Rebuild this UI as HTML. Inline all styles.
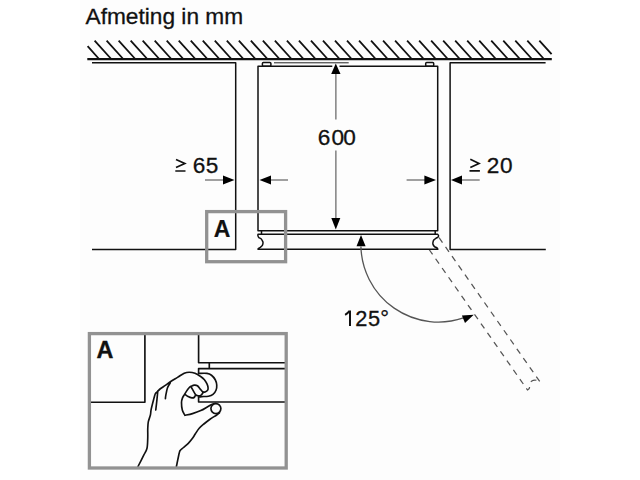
<!DOCTYPE html>
<html><head><meta charset="utf-8"><style>
html,body{margin:0;padding:0;background:#fff;width:640px;height:480px;overflow:hidden}
svg{display:block}
text{font-family:"Liberation Sans",sans-serif;fill:#111}
</style></head><body>
<svg width="640" height="480" viewBox="0 0 640 480">
<rect x="80" y="0" width="480" height="480" fill="#fdfdfd"/>
<text x="85.5" y="23.9" font-size="22.7" style="stroke:#111;stroke-width:0.3">Afmeting in mm</text>
<!-- ceiling -->
<path d="M87.6 46.2L98.6 58.5M94.60 40.7L110.78 58.50M106.62 40.7L122.80 58.50M118.64 40.7L134.82 58.50M130.66 40.7L146.84 58.50M142.68 40.7L158.86 58.50M154.70 40.7L170.88 58.50M166.72 40.7L182.90 58.50M178.74 40.7L194.92 58.50M190.76 40.7L206.94 58.50M202.78 40.7L218.96 58.50M214.80 40.7L230.98 58.50M226.82 40.7L243.00 58.50M238.84 40.7L255.02 58.50M250.86 40.7L267.04 58.50M262.88 40.7L279.06 58.50M274.90 40.7L291.08 58.50M286.92 40.7L303.10 58.50M298.94 40.7L315.12 58.50M310.96 40.7L327.14 58.50M322.98 40.7L339.16 58.50M335.00 40.7L351.18 58.50M347.02 40.7L363.20 58.50M359.04 40.7L375.22 58.50M371.06 40.7L387.24 58.50M383.08 40.7L399.26 58.50M395.10 40.7L411.28 58.50M407.12 40.7L423.30 58.50M419.14 40.7L435.32 58.50M431.16 40.7L447.34 58.50M443.18 40.7L459.36 58.50M455.20 40.7L471.38 58.50M467.22 40.7L483.40 58.50M479.24 40.7L495.42 58.50M491.26 40.7L507.44 58.50M503.28 40.7L519.46 58.50M515.30 40.7L531.48 58.50M527.32 40.7L543.50 58.50M539.34 40.7L551.60 54.19" stroke="#111" stroke-width="1.8" fill="none"/>
<path d="M87.3 59.1H551.8" stroke="#111" stroke-width="2.3" fill="none"/>
<!-- open door dashed -->
<g transform="rotate(-125 433.28 242)" stroke="#555" stroke-width="1.25" fill="none" stroke-dasharray="6 5.3">
<path stroke-dashoffset="3.33" d="M437.5 234.3H258C258 235.5 258 236.5 258.5 237C259.5 238 262.9 239.5 262.9 243C262.9 246.8 259 248.4 258 249.2"/>
<path stroke-dashoffset="7.3" d="M437.5 249.2H258"/>
</g>
<g fill="none" stroke="#111" stroke-width="1.5" stroke-linejoin="round">
<!-- left cabinet -->
<path d="M92 62.65H235.7V249.4H92"/>
<!-- right cabinet -->
<path d="M545.6 62.65H450.1V249.4H545.8"/>
<!-- fridge body -->
<path d="M332.3 66.3H258V230.7H437.7V66.3H339.5"/>
<!-- hinges -->
<rect x="262.4" y="62.5" width="8.5" height="3.8" rx="1"/>
<rect x="425.7" y="62.5" width="8" height="3.8" rx="1"/>
<!-- door -->
<path d="M261.5 230.7V234.3M435.2 230.7V234.3"/>
<path fill="#fdfdfd" d="M258 234.3H437.6C437.75 234.47 438.42 234.83 438.50 235.30C438.58 235.77 438.53 236.60 438.10 237.10C437.67 237.60 436.62 237.82 435.90 238.30C435.17 238.78 434.25 239.28 433.75 240.00C433.25 240.72 433.02 241.87 432.90 242.60C432.77 243.33 432.73 243.73 433.00 244.40C433.27 245.07 433.88 246.05 434.50 246.60C435.12 247.15 436.13 247.27 436.70 247.70C437.27 248.13 437.70 248.95 437.90 249.20H258C258.05 249.08 257.97 248.78 258.30 248.50C258.63 248.22 259.35 247.98 260.00 247.50C260.65 247.02 261.70 246.33 262.20 245.60C262.70 244.87 262.90 243.77 263.00 243.10C263.10 242.43 263.09 242.28 262.80 241.60C262.51 240.92 261.93 239.68 261.25 239.00C260.57 238.32 259.31 238.07 258.75 237.50C258.19 236.93 258.02 236.13 257.90 235.60C257.77 235.07 257.98 234.52 258.00 234.30Z"/>
</g>
<path d="M274 62.8H348.7" stroke="#222" stroke-width="1" fill="none"/>
<!-- dimension lines -->
<g stroke="#444" stroke-width="1.1" fill="none">
<path stroke="#555" d="M335.9 72V119.4M335.9 150.6V219"/>
<path d="M205 180H224M271 180H288M406.6 180H425M462 180H479.7"/>
<path stroke="#555" stroke-width="1.3" d="M360.9 246.5A77.6 77.6 0 0 0 463.5 317.9"/>
</g>
<g fill="#000">
<path d="M335.8 63.6L331.2 74.1H340.5Z"/>
<path d="M335.8 229.4L331.3 218.1H340.3Z"/>
<path d="M234.5 180L223 175.5V184.5Z"/>
<path d="M259.5 180L271 175.4V184.6Z"/>
<path d="M436 180L424.4 175.5V184.5Z"/>
<path d="M451 180L462 175.5V184.5Z"/>
<path d="M361 235L356.5 246.3H365.6Z"/>
<path d="M473.8 314.8L461.9 315.6L465 323.1Z"/>
</g>
<g style="stroke:#111;stroke-width:0.3" font-size="22.6">
<text x="317.7" y="145">6</text><text x="331.6" y="145">0</text><text x="343.2" y="145">0</text>
<text x="192.8" y="173.1">6</text><text x="205.7" y="173.1">5</text>
<text x="486.8" y="173.1">2</text><text x="499.9" y="173.1">0</text>
<text x="355.2" y="326" font-size="21.8">2</text><text x="368" y="326" font-size="21.8">5</text><text x="380.3" y="326" font-size="21.8">°</text>
</g>
<path d="M350 310.6V326.1M349.6 310.9C348.3 312.6 346.8 313.9 345.1 314.8" fill="none" stroke="#111" stroke-width="2"/>
<path d="M176 159.6L184.8 163.6L176 167.6M175.3 171H185.5M470.3 159.3L479 163.4L470.3 167.5M469.5 170.9H479.9" fill="none" stroke="#111" stroke-width="1.7"/>
<!-- A box -->
<rect x="206.7" y="211.6" width="78.9" height="50.1" fill="none" stroke="#929292" stroke-width="3.3"/>
<text x="213.8" y="236.8" font-size="23" font-weight="bold" style="stroke:#111;stroke-width:0.2">A</text>
<!-- inset -->
<g fill="none" stroke="#111" stroke-width="1.65" stroke-linejoin="round" stroke-linecap="round">
<path d="M90.5 402.2H144.9V335"/>
<path d="M198.6 335V362.7H285M209.3 362.7V368.6M285 368.6H198.6V373.4M198.6 397V402H285"/>
<path fill="#fdfdfd" stroke="none" d="M138.00 466.50C138.96 464.60 142.25 458.15 143.75 455.10C145.25 452.05 146.33 451.07 147.00 448.20C147.67 445.33 147.62 441.14 147.75 437.90C147.88 434.66 147.66 431.42 147.75 428.75C147.84 426.08 147.86 424.19 148.30 421.90C148.74 419.61 149.92 417.12 150.40 415.00C150.88 412.88 150.65 411.83 151.20 409.20C151.75 406.57 153.02 401.77 153.70 399.20C154.38 396.62 154.75 394.93 155.30 393.75C155.85 392.57 156.17 392.93 157.00 392.10C157.83 391.27 158.92 389.87 160.30 388.75C161.68 387.63 163.68 386.52 165.30 385.40C166.92 384.27 167.97 383.33 170.00 382.00C172.03 380.67 175.13 378.86 177.50 377.40C179.87 375.94 182.25 374.12 184.20 373.25C186.15 372.38 187.40 372.20 189.20 372.20C191.00 372.20 193.03 372.49 195.00 373.25C196.97 374.01 199.43 375.67 201.00 376.75C202.57 377.83 203.40 378.56 204.40 379.75C205.40 380.94 206.38 382.52 207.00 383.90C207.62 385.27 208.03 386.88 208.10 388.00C208.17 389.12 207.96 389.92 207.40 390.60C206.84 391.28 205.57 391.91 204.75 392.10C203.93 392.29 203.25 392.25 202.50 391.75C201.75 391.25 201.10 390.09 200.25 389.10C199.40 388.11 198.38 386.47 197.40 385.80C196.43 385.13 195.53 384.97 194.40 385.10C193.27 385.23 191.75 385.83 190.60 386.60C189.45 387.38 188.48 388.50 187.50 389.75C186.52 391.00 185.53 392.74 184.70 394.10C183.87 395.46 183.03 396.50 182.50 397.90C181.97 399.30 181.53 400.48 181.50 402.50C181.47 404.52 181.73 407.87 182.30 410.00C182.87 412.13 183.20 414.70 184.90 415.30C186.60 415.90 189.85 414.38 192.50 413.60C195.15 412.82 198.27 411.75 200.80 410.60C203.33 409.45 205.78 407.77 207.70 406.70C209.62 405.63 210.93 404.72 212.30 404.20C213.67 403.68 214.43 402.87 215.90 403.60C217.37 404.33 220.50 407.07 221.10 408.60C221.70 410.13 220.23 411.73 219.50 412.80C218.77 413.87 218.28 413.93 216.70 415.00C215.12 416.07 212.08 417.74 210.00 419.20C207.92 420.66 206.00 422.23 204.20 423.75C202.40 425.27 200.67 426.63 199.20 428.30C197.73 429.97 196.52 432.08 195.40 433.75C194.28 435.42 193.68 436.71 192.50 438.30C191.32 439.89 189.80 441.77 188.30 443.30C186.80 444.83 184.82 446.35 183.50 447.50C182.18 448.65 181.11 449.28 180.40 450.20C179.69 451.12 179.92 450.28 179.25 453.00C178.58 455.72 183.28 464.25 176.40 466.50C169.53 468.75 144.40 466.50 138.00 466.50Z"/>
<path fill="none" d="M138.00 466.50C138.96 464.60 142.25 458.15 143.75 455.10C145.25 452.05 146.33 451.07 147.00 448.20C147.67 445.33 147.62 441.14 147.75 437.90C147.88 434.66 147.66 431.42 147.75 428.75C147.84 426.08 147.86 424.19 148.30 421.90C148.74 419.61 149.92 417.12 150.40 415.00C150.88 412.88 150.65 411.83 151.20 409.20C151.75 406.57 153.02 401.77 153.70 399.20C154.38 396.62 154.75 394.93 155.30 393.75C155.85 392.57 156.17 392.93 157.00 392.10C157.83 391.27 158.92 389.87 160.30 388.75C161.68 387.63 163.68 386.52 165.30 385.40C166.92 384.27 167.97 383.33 170.00 382.00C172.03 380.67 175.13 378.86 177.50 377.40C179.87 375.94 182.25 374.12 184.20 373.25C186.15 372.38 187.40 372.20 189.20 372.20C191.00 372.20 193.03 372.49 195.00 373.25C196.97 374.01 199.43 375.67 201.00 376.75C202.57 377.83 203.40 378.56 204.40 379.75C205.40 380.94 206.38 382.52 207.00 383.90C207.62 385.27 208.03 386.88 208.10 388.00C208.17 389.12 207.96 389.92 207.40 390.60C206.84 391.28 205.57 391.91 204.75 392.10C203.93 392.29 202.88 391.81 202.50 391.75M202.50 391.75C202.12 391.31 201.10 390.09 200.25 389.10C199.40 388.11 198.38 386.47 197.40 385.80C196.43 385.13 195.53 384.97 194.40 385.10C193.27 385.23 191.23 386.35 190.60 386.60M190.30 386.50C189.83 387.04 188.43 388.48 187.50 389.75C186.57 391.02 185.53 392.74 184.70 394.10C183.87 395.46 183.03 396.50 182.50 397.90C181.97 399.30 181.53 400.48 181.50 402.50C181.47 404.52 181.73 407.87 182.30 410.00C182.87 412.13 184.47 414.42 184.90 415.30M184.90 415.30C186.17 415.02 189.85 414.38 192.50 413.60C195.15 412.82 198.27 411.75 200.80 410.60C203.33 409.45 205.78 407.77 207.70 406.70C209.62 405.63 210.93 404.72 212.30 404.20C213.67 403.68 215.30 403.70 215.90 403.60M219.50 412.80C219.03 413.17 218.28 413.93 216.70 415.00C215.12 416.07 212.08 417.74 210.00 419.20C207.92 420.66 206.00 422.23 204.20 423.75C202.40 425.27 200.67 426.63 199.20 428.30C197.73 429.97 196.52 432.08 195.40 433.75C194.28 435.42 193.68 436.71 192.50 438.30C191.32 439.89 189.80 441.77 188.30 443.30C186.80 444.83 184.82 446.35 183.50 447.50C182.18 448.65 181.11 449.28 180.40 450.20C179.69 451.12 179.92 450.28 179.25 453.00C178.58 455.72 176.88 464.25 176.40 466.50M191.25 387.25C191.67 387.98 193.03 390.35 193.75 391.60C194.47 392.85 195.29 394.23 195.60 394.75M184.70 394.10C185.27 394.52 186.90 395.97 188.10 396.60C189.30 397.23 190.85 397.79 191.90 397.90C192.95 398.01 193.78 397.77 194.40 397.25C195.02 396.73 195.40 395.17 195.60 394.75M195.60 394.75C196.00 394.93 197.08 395.74 198.00 395.80C198.92 395.86 200.23 395.67 201.10 395.10C201.97 394.53 202.85 392.85 203.20 392.40M157.80 390.80C157.67 392.20 157.34 396.00 157.00 399.20C156.66 402.40 155.96 408.20 155.75 410.00M170.30 382.90C169.83 383.72 168.25 385.73 167.50 387.80C166.75 389.87 166.15 393.48 165.80 395.30C165.45 397.12 165.47 398.13 165.40 398.70"/>
<circle cx="215.9" cy="408.6" r="5" fill="#fdfdfd"/>
<path fill="none" d="M198.60 373.40C200.00 373.40 204.85 373.09 207.00 373.40C209.15 373.71 210.12 374.19 211.50 375.25C212.88 376.31 214.38 378.12 215.25 379.75C216.12 381.38 216.62 383.25 216.75 385.00C216.88 386.75 216.62 388.68 216.00 390.25C215.38 391.82 214.25 393.40 213.00 394.40C211.75 395.40 210.38 395.88 208.50 396.25C206.62 396.62 203.40 396.48 201.75 396.60C200.10 396.73 199.12 396.93 198.60 397.00"/>
</g>
<rect x="89.4" y="333.6" width="196.8" height="134.4" fill="none" stroke="#929292" stroke-width="3.3"/>
<text x="96.5" y="358.4" font-size="23.4" font-weight="bold" style="stroke:#111;stroke-width:0.35">A</text>
</svg>
</body></html>
